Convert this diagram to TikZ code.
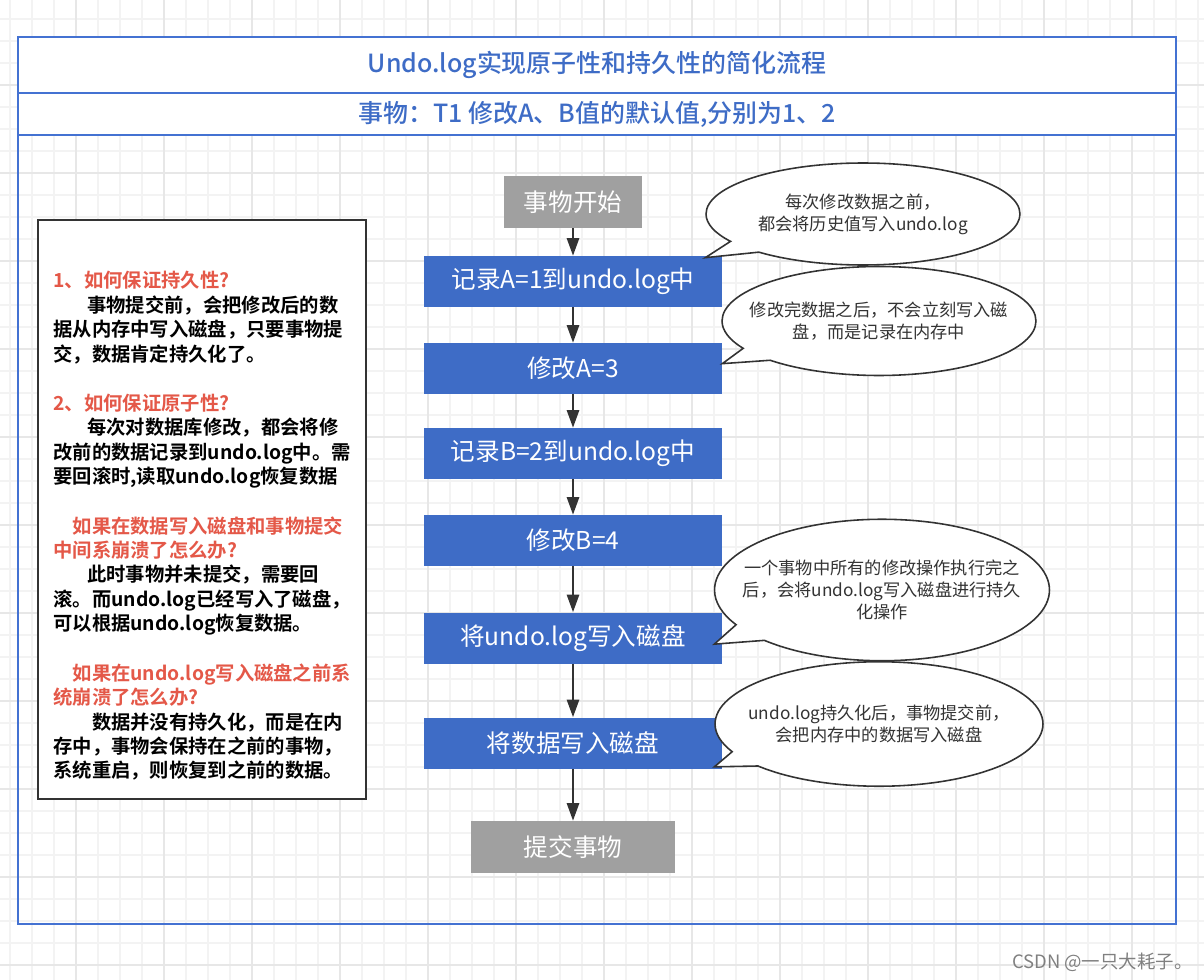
\documentclass[tikz,border=0pt]{standalone}
\usepackage{fontspec}
\setmainfont{Noto Sans CJK SC}[BoldFont={Noto Sans CJK SC Bold}]
\newfontfamily\medfont{Noto Sans CJK SC Medium}
\usepackage{xcolor}
\definecolor{ulblue}{RGB}{62,108,198}
\definecolor{ulframe}{RGB}{68,114,210}
\definecolor{ulgray}{RGB}{160,160,160}
\definecolor{ulred}{RGB}{228,88,72}
\definecolor{uldark}{RGB}{51,51,51}
\definecolor{ulgrid}{RGB}{243,243,243}
\definecolor{ulgridmajor}{RGB}{231,231,231}
\usetikzlibrary{arrows.meta, positioning, shapes.callouts}

\tikzset{
  flowbox/.style={fill=ulblue, text=white, minimum width=5.96cm,
                  minimum height=1.02cm, inner sep=0pt,
                  font=\fontsize{14}{16}\selectfont},
  endbox/.style={fill=ulgray, text=white, minimum height=1.04cm,
                 inner sep=0pt, font=\fontsize{14}{16}\selectfont},
  flowarrow/.style={-{Triangle[length=10pt,width=7pt]}, uldark,
                    line width=1.1pt},
  note/.style={ellipse callout, draw=uldark, line width=0.9pt, fill=white,
               align=center, text=uldark, inner xsep=-60pt, inner ysep=-20pt,
               callout pointer arc=16,
               font=\fontsize{9.8}{12.5}\selectfont},
  notetext/.style={anchor=north west, align=left, inner sep=0pt,
                   font=\fontsize{11}{13.94}\selectfont\bfseries},
  hdr/.style={draw=ulframe, line width=0.9pt, fill=white, text=ulblue,
              minimum width=23.16cm, inner sep=0pt,
              font=\fontsize{14.2}{16}\selectfont\medfont}
}

\begin{document}
\begin{tikzpicture}[x=0.02cm, y=-0.02cm]
  \useasboundingbox (0,0) rectangle (1204,980);
  % background grid
  \foreach \gx in {10,32,...,1204}
    \draw[ulgrid, line width=0.8pt] (\gx,0) -- (\gx,980);
  \foreach \gy in {19,41,...,980}
    \draw[ulgrid, line width=0.8pt] (0,\gy) -- (1204,\gy);
  \foreach \gx in {76,164,...,1204}
    \draw[ulgridmajor, line width=0.8pt] (\gx,0) -- (\gx,980);
  \foreach \gy in {85,173,...,980}
    \draw[ulgridmajor, line width=0.8pt] (0,\gy) -- (1204,\gy);

  % outer frame and header rows
  \draw[ulframe, line width=0.9pt] (18,37) rectangle (1176,924);
  \node[hdr, minimum height=1.12cm] (title) at (597,65)
    {Undo.log实现原子性和持久性的简化流程};
  \node[hdr, minimum height=0.84cm] (subtitle) at (597,114)
    {事物：T1 修改A、B值的默认值,分别为1、2};

  % flow
  \node[endbox, minimum width=2.76cm] (start) at (573,202) {事物开始};
  \node[flowbox] (b1) at (573,281.5) {记录A=1到undo.log中};
  \node[flowbox] (b2) at (573,368.5) {修改A=3};
  \node[flowbox] (b3) at (573,453.5) {记录B=2到undo.log中};
  \node[flowbox] (b4) at (573,540.5) {修改B=4};
  \node[flowbox] (b5) at (573,638) {将undo.log写入磁盘};
  \node[flowbox] (b6) at (573,743) {将数据写入磁盘};
  \node[endbox, minimum width=4.08cm] (commit) at (573,847) {提交事物};

  \draw[flowarrow] (start) -- (b1);
  \draw[flowarrow] (b1) -- (b2);
  \draw[flowarrow] (b2) -- (b3);
  \draw[flowarrow] (b3) -- (b4);
  \draw[flowarrow] (b4) -- (b5);
  \draw[flowarrow] (b5) -- (b6);
  \draw[flowarrow] (b6) -- (commit);

  % callouts
  \node[note, minimum width=6.28cm, minimum height=2.04cm,
        callout absolute pointer={([xshift=-0.34cm,yshift=-0.04cm]b1.north east)}]
        (n1) at (863,214) {每次修改数据之前，\\都会将历史值写入undo.log};
  \node[note, minimum width=6.28cm, minimum height=2.18cm,
        callout absolute pointer={([yshift=-0.42cm]b2.north east)}]
        (n2) at (879,321) {修改完数据之后，不会立刻写入磁\\盘，而是记录在内存中};
  \node[note, minimum width=6.7cm, minimum height=2.83cm,
        callout absolute pointer={([xshift=-0.16cm,yshift=-0.64cm]b5.north east)}]
        (n3) at (882,590) {一个事物中所有的修改操作执行完之\\后，会将undo.log写入磁盘进行持久\\化操作};
  \node[note, minimum width=6.56cm, minimum height=2.49cm,
        callout absolute pointer={([xshift=-0.16cm,yshift=0.04cm]b6.south east)}]
        (n4) at (879,724) {undo.log持久化后，事物提交前，\\会把内存中的数据写入磁盘};

  % left explanation box
  \node[draw=uldark, line width=1.2pt, fill=white, anchor=north west,
        minimum width=6.56cm, minimum height=11.58cm] (notes) at (37,219) {};
  \node[notetext] (q1) at (53,271)
    {\textcolor{ulred}{1、如何保证持久性?}\\
     \hspace*{1.75em}事物提交前，会把修改后的数\\
     据从内存中写入磁盘，只要事物提\\
     交，数据肯定持久化了。};
  \node[notetext] (q2) at (53,393.5)
    {\textcolor{ulred}{2、如何保证原子性?}\\
     \hspace*{1.75em}每次对数据库修改，都会将修\\
     改前的数据记录到undo.log中。需\\
     要回滚时,读取undo.log恢复数据};
  \node[notetext] (q3) at (53,516)
    {\textcolor{ulred}{\hspace*{1em}如果在数据写入磁盘和事物提交}\\
     \textcolor{ulred}{中间系崩溃了怎么办?}\\
     \hspace*{1.75em}此时事物并未提交，需要回\\
     滚。而undo.log已经写入了磁盘，\\
     可以根据undo.log恢复数据。};
  \node[notetext] (q4) at (53,663)
    {\textcolor{ulred}{\hspace*{1em}如果在undo.log写入磁盘之前系}\\
     \textcolor{ulred}{统崩溃了怎么办?}\\
     \hspace*{2em}数据并没有持久化，而是在内\\
     存中，事物会保持在之前的事物，\\
     系统重启，则恢复到之前的数据。};

  % watermark
  \node[anchor=east, text=gray, inner sep=0pt,
        font=\fontsize{10.5}{12}\selectfont] (mark) at (1193,962)
    {CSDN @一只大耗子。};
\end{tikzpicture}
\end{document}
